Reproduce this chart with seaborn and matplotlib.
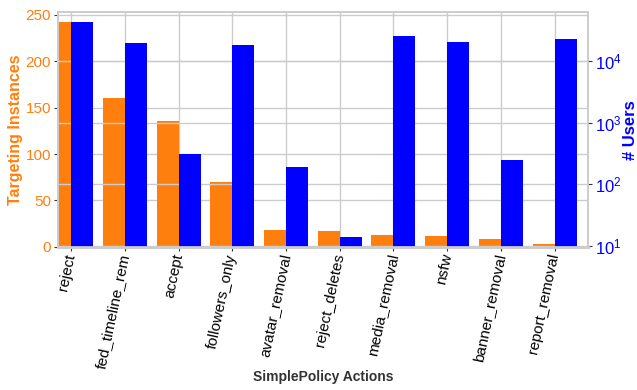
import matplotlib
matplotlib.use("Agg")
import matplotlib.pyplot as plt
import numpy as np
import pandas as pd
import seaborn as sns
from matplotlib.ticker import LogLocator, NullLocator, MultipleLocator

# SimplePolicy actions, how many instances target each, and how many users they reach
actions = ["reject", "fed_timeline_rem", "accept", "followers_only", "avatar_removal",
           "reject_deletes", "media_removal", "nsfw", "banner_removal", "report_removal"]
instances = [242, 160, 136, 70, 18, 17, 13, 12, 8, 3]
users = [42800, 19500, 311, 18200, 192, 14, 25400, 20300, 249, 22700]

ORANGE = "#ff7f0e"
BLUE = "#0000ff"
LEFT_NAME = "Targeting Instances"
RIGHT_NAME = "# Users"

sns.set_theme(style="whitegrid")
plt.rcParams["font.family"] = ["Liberation Sans", "DejaVu Sans"]
plt.rcParams["mathtext.fontset"] = "custom"
plt.rcParams["mathtext.rm"] = "Liberation Sans"
plt.rcParams["mathtext.it"] = "Liberation Sans:italic"
plt.rcParams["mathtext.bf"] = "Liberation Sans:bold"

n = len(actions)
df = pd.DataFrame({
    "action": actions * 2,
    "metric": [LEFT_NAME] * n + [RIGHT_NAME] * n,
    "value": instances + users,
})
hue_order = [LEFT_NAME, RIGHT_NAME]
palette = {LEFT_NAME: ORANGE, RIGHT_NAME: BLUE}

fig = plt.figure(figsize=(6.37, 3.9), dpi=100)
ax = fig.add_axes([0.091, 0.367, 0.832, 0.601])
ax2 = ax.twinx()
ax2.set_yscale("log")

# each metric on its own axis, keeping its side-by-side slot within the group
sns.barplot(data=df[df["metric"] == LEFT_NAME], x="action", y="value", hue="metric",
            hue_order=hue_order, order=actions, palette=palette, saturation=1,
            width=0.82, dodge=True, legend=False, ax=ax)
sns.barplot(data=df[df["metric"] == RIGHT_NAME], x="action", y="value", hue="metric",
            hue_order=hue_order, order=actions, palette=palette, saturation=1,
            width=0.82, dodge=True, legend=False, ax=ax2)

for a in (ax, ax2):
    for p in a.patches:
        p.set_edgecolor("none")
        p.set_linewidth(0)

# axis ranges
ax.set_xlim(-0.245, 9.62)
ax.set_ylim(0, 252.5)
ax2.set_ylim(9.64, 61400)

# grids: left axis behind its bars, right axis grid drawn over the left bars
ax.set_axisbelow(True)
ax.xaxis.grid(True, color="#cccccc", linewidth=1)
ax.yaxis.grid(True, color="#cccccc", linewidth=1)
ax2.set_axisbelow(True)
ax2.yaxis.grid(True, color="#cccccc", linewidth=1)

ax.yaxis.set_major_locator(MultipleLocator(50))
ax2.yaxis.set_major_locator(LogLocator(base=10, numticks=10))
ax2.yaxis.set_minor_locator(NullLocator())

for a in (ax, ax2):
    for s in a.spines.values():
        s.set_color("#cccccc")
        s.set_linewidth(1.2)
    a.spines["bottom"].set_linewidth(2)

ax.tick_params(axis="y", left=True, length=3, width=0.8, color="#333333",
               labelcolor=ORANGE, labelsize=11, pad=2)
ax.tick_params(axis="x", bottom=True, length=3, width=0.8, color="#333333",
               labelcolor="black", labelsize=11, pad=2)
ax2.tick_params(axis="y", right=True, length=3, width=0.8, color="#333333",
                labelcolor=BLUE, labelsize=12, pad=2)

ax.set_xticks(range(n))
ax.set_xticklabels(actions, rotation=78, ha="right", rotation_mode="anchor", va="center")

ax.set_ylabel(LEFT_NAME, color=ORANGE, fontsize=11.5, fontweight="bold", labelpad=2)
ax2.set_ylabel(RIGHT_NAME, color=BLUE, fontsize=12, fontweight="bold", labelpad=1)
ax.set_xlabel("SimplePolicy Actions", color="#333333", fontsize=10, fontweight="bold",
              labelpad=0)

fig.savefig("out.png", dpi=100)
